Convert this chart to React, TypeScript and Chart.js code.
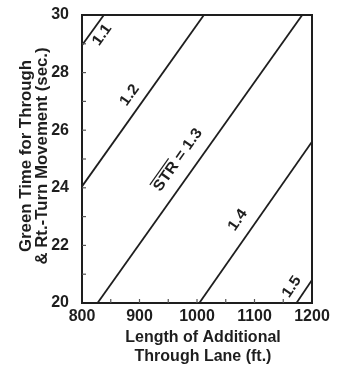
import React, { useEffect, useRef } from 'react';
import { Chart, registerables } from 'chart.js';
Chart.register(...registerables);

// ---- data ----
const xTicks = [800, 900, 1000, 1100, 1200];
const yTicks = [20, 22, 24, 26, 28, 30];
const line11 = [{ x: 800, y: 28.95 }, { x: 838, y: 30 }];
const line12 = [{ x: 800, y: 24.05 }, { x: 1012, y: 30 }];
const line13 = [{ x: 827, y: 20 }, { x: 1183, y: 30 }];
const line14 = [{ x: 1004, y: 20 }, { x: 1200, y: 25.6 }];
const line15 = [{ x: 1173, y: 20 }, { x: 1200, y: 20.8 }];
const lineNames = ['1.1', '1.2', '1.3', '1.4', '1.5'];
const labelText = ['1.1', '1.2', 'STR = 1.3', '1.4', '1.5'];
const labelX = [835, 883, 967, 1071, 1165];
const labelY = [29.31, 27.22, 24.97, 22.88, 20.56];
const xTitle = ['Length of Additional', 'Through Lane (ft.)'];
const yTitle = ['Green Time for Through', '& Rt.-Turn Movement (sec.)'];

const INK = '#1e1e1e';
const FONT = '"Liberation Sans", Arial, sans-serif';

const decorPlugin = {
  id: 'decor',
  afterDraw(chart: any) {
    const { ctx, chartArea } = chart;
    const { left, right, top, bottom } = chartArea;
    const xs = chart.scales.x;
    const ys = chart.scales.y;
    ctx.save();
    ctx.strokeStyle = INK;
    ctx.fillStyle = INK;
    // frame
    ctx.lineWidth = 2;
    ctx.strokeRect(left, top, right - left, bottom - top);
    // inward ticks
    ctx.lineWidth = 1.2;
    ctx.strokeStyle = '#555';
    xs.ticks.forEach((t: any) => {
      const px = xs.getPixelForValue(t.value);
      if (px <= left + 1 || px >= right - 1) return;
      ctx.beginPath();
      ctx.moveTo(px, bottom);
      ctx.lineTo(px, bottom - 4);
      ctx.stroke();
    });
    ys.ticks.forEach((t: any) => {
      const py = ys.getPixelForValue(t.value);
      if (py <= top + 1 || py >= bottom - 1) return;
      ctx.beginPath();
      ctx.moveTo(left, py);
      ctx.lineTo(left + 4, py);
      ctx.stroke();
    });
    // line labels
    ctx.fillStyle = INK;
    ctx.strokeStyle = INK;
    ctx.font = `bold 15px ${FONT}`;
    ctx.textAlign = 'center';
    ctx.textBaseline = 'middle';
    labelText.forEach((txt, i) => {
      const meta = chart.getDatasetMeta(i);
      const p0 = meta.data[0];
      const p1 = meta.data[1];
      const ang = Math.atan2(p1.y - p0.y, p1.x - p0.x);
      const px = xs.getPixelForValue(labelX[i]);
      const py = ys.getPixelForValue(labelY[i]);
      ctx.save();
      ctx.translate(px, py);
      ctx.rotate(ang);
      ctx.scale(1.08, 1);
      ctx.fillText(txt, 0, 0);
      if (txt.startsWith('STR')) {
        const total = ctx.measureText(txt).width;
        const w = ctx.measureText('STR').width;
        ctx.lineWidth = 1.2;
        ctx.beginPath();
        ctx.moveTo(-total / 2, -8.5);
        ctx.lineTo(-total / 2 + w, -8.5);
        ctx.stroke();
      }
      ctx.restore();
    });
    // axis titles
    ctx.font = `bold 16px ${FONT}`;
    ctx.textBaseline = 'middle';
    const cx = (left + right) / 2 + 6;
    ctx.fillText(xTitle[0], cx, bottom + 35);
    ctx.fillText(xTitle[1], cx, bottom + 54);
    const cy = (top + bottom) / 2 - 3;
    [27, 43].forEach((xx, i) => {
      ctx.save();
      ctx.translate(xx, cy);
      ctx.rotate(-Math.PI / 2);
      ctx.scale(1.05, 1);
      ctx.fillText(yTitle[i], 0, 0);
      ctx.restore();
    });
    ctx.restore();
  },
};

export default function App() {
  const ref = useRef<HTMLCanvasElement>(null);
  useEffect(() => {
    if (!ref.current) return;
    const series = [line11, line12, line13, line14, line15];
    const chart = new Chart(ref.current, {
      type: 'line',
      data: {
        datasets: series.map((d, i) => ({
          label: lineNames[i],
          data: d,
          borderColor: INK,
          borderWidth: 1.8,
          pointRadius: 0,
          fill: false,
        })),
      },
      options: {
        animation: false,
        responsive: false,
        devicePixelRatio: 1,
        layout: { padding: { top: 15, right: 32, left: 0, bottom: 0 } },
        plugins: { legend: { display: false }, tooltip: { enabled: false } },
        scales: {
          x: {
            type: 'linear',
            min: 800,
            max: 1200,
            grid: { display: false },
            border: { display: false },
            afterFit: (s: any) => { s.height = 62; },
            ticks: {
              stepSize: 50,
              autoSkip: false,
              maxRotation: 0,
              padding: -4,
              color: INK,
              font: { family: FONT, size: 16, weight: 'bold' },
              callback: (v: any) => (xTicks.includes(Number(v)) ? String(v) : ''),
            },
          },
          y: {
            type: 'linear',
            min: 20,
            max: 30,
            grid: { display: false },
            border: { display: false },
            afterFit: (s: any) => { s.width = 82; },
            ticks: {
              stepSize: 1,
              autoSkip: false,
              padding: 5,
              color: INK,
              font: { family: FONT, size: 16, weight: 'bold' },
              callback: (v: any) => (yTicks.includes(Number(v)) ? String(v) : ''),
            },
          },
        },
      },
      plugins: [decorPlugin],
    });
    return () => chart.destroy();
  }, []);
  return (
    <div style={{ position: 'absolute', left: 0, top: 0, width: 344, height: 365, background: '#fff' }}>
      <canvas ref={ref} width={344} height={365} style={{ width: 344, height: 365 }} />
    </div>
  );
}
